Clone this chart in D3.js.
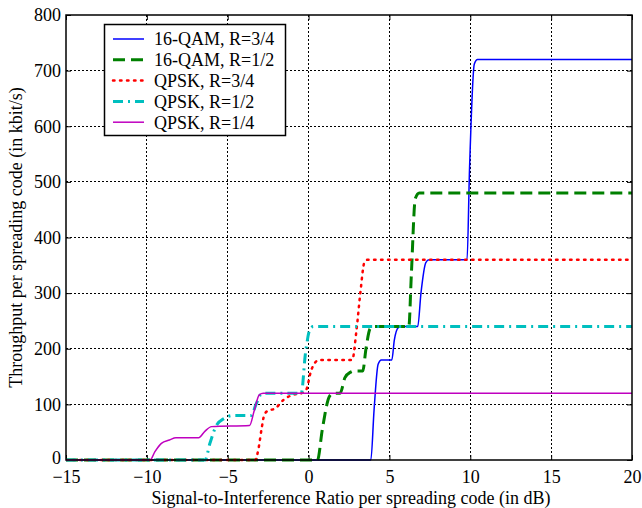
<!DOCTYPE html>
<html>
<head>
<meta charset="utf-8">
<script src="https://cdn.jsdelivr.net/npm/d3@7"></script>
<style>
  body { margin: 0; background: #fff; }
  svg { display: block; font-family: "Liberation Serif", "Times New Roman", serif; }
</style>
</head>
<body>
<svg id="chart" width="642" height="508"></svg>
<script>
// ---- Data ----
const xTicks = [-15, -10, -5, 0, 5, 10, 15, 20];
const yTicks = [0, 100, 200, 300, 400, 500, 600, 700, 800];

const seriesNames = ["16-QAM, R=3/4", "16-QAM, R=1/2", "QPSK, R=3/4", "QPSK, R=1/2", "QPSK, R=1/4"];

const qam16r34X = [-15, 3.85, 4.05, 4.3, 4.5, 5.15, 5.3, 5.55, 5.75, 6.75, 6.95, 7.25, 7.45, 9.8, 9.95, 10.25, 10.45, 20];
const qam16r34Y = [0, 0, 90, 172, 180, 180, 215, 238, 240, 240, 300, 355, 360, 360, 520, 712, 720, 720];

const qam16r12X = [-15, 0.55, 0.85, 1.3, 1.55, 1.95, 2.25, 2.6, 2.8, 3.35, 3.55, 3.8, 4.0, 6.2, 6.35, 6.6, 6.85, 20];
const qam16r12Y = [0, 0, 55, 115, 120, 120, 148, 158, 160, 160, 200, 236, 240, 240, 330, 470, 480, 480];

const qpskr34X = [-15, -3.3, -3.1, -2.9, -2.75, -2.5, -2.1, -1.55, -1.0, -0.45, -0.15, 0.15, 0.5, 0.7, 2.7, 2.95, 3.2, 3.45, 3.65, 20];
const qpskr34Y = [0, 0, 20, 57, 80, 89, 92, 108, 117, 120, 126, 160, 178, 180, 180, 230, 300, 355, 360, 360];

const qpskr12X = [-15, -6.4, -6.1, -5.7, -5.2, -4.7, -3.55, -3.25, -2.95, -2.75, -0.45, -0.2, 0.1, 0.3, 20];
const qpskr12Y = [0, 0, 30, 62, 75, 80, 80, 100, 118, 120, 120, 190, 236, 240, 240];

const qpskr14X = [-15, -9.8, -9.5, -9.1, -8.6, -8.2, -6.8, -6.4, -6.0, -3.65, -3.35, -3.05, -2.8, 20];
const qpskr14Y = [0, 0, 15, 30, 36, 40, 40, 52, 60, 62, 90, 117, 120, 120];

const seriesColors = ["#0000ff", "#008000", "#ff0000", "#00bfbf", "#bf00bf"];

// ---- Layout ----
const W = 642, H = 508;
const L = 66, R = 632, T = 15, B = 460;
const FS = 18;

const svg = d3.select("#chart");
const x = d3.scaleLinear().domain([-15, 20]).range([L, R]);
const y = d3.scaleLinear().domain([0, 800]).range([B, T]);

// grid
const grid = svg.append("g");
grid.selectAll(".gx").data(xTicks.slice(1, -1)).enter().append("line")
  .attr("x1", d => x(d)).attr("x2", d => x(d)).attr("y1", T).attr("y2", B)
  .attr("stroke", "#000").attr("stroke-width", 1).attr("stroke-dasharray", "2,2").attr("shape-rendering", "crispEdges");
grid.selectAll(".gy").data(yTicks.slice(1, -1)).enter().append("line")
  .attr("y1", d => y(d)).attr("y2", d => y(d)).attr("x1", L).attr("x2", R)
  .attr("stroke", "#000").attr("stroke-width", 1).attr("stroke-dasharray", "2,2").attr("shape-rendering", "crispEdges");

// axes (ticks inward)
const tickLen = 5;
const xAxisB = d3.axisBottom(x).tickValues(xTicks).tickSize(-tickLen).tickPadding(10).tickFormat(d3.format("d"));
const xAxisT = d3.axisTop(x).tickValues(xTicks).tickSize(-tickLen).tickFormat("");
const yAxisL = d3.axisLeft(y).tickValues(yTicks).tickSize(-tickLen).tickPadding(5).tickFormat(d3.format("d"));
const yAxisR = d3.axisRight(y).tickValues(yTicks).tickSize(-tickLen).tickFormat("");

function styleAxis(g) {
  g.select(".domain").remove();
  g.selectAll(".tick line").attr("stroke", "#000").attr("stroke-width", 1);
  g.selectAll("text").attr("font-family", "Liberation Serif, serif").attr("font-size", FS).attr("fill", "#000");
}
svg.append("g").attr("transform", `translate(0,${B})`).call(xAxisB).call(styleAxis)
  .selectAll("text").attr("dy", "0.71em");
svg.append("g").attr("transform", `translate(0,${T})`).call(xAxisT).call(styleAxis);
const yL = svg.append("g").attr("transform", `translate(${L},0)`).call(yAxisL).call(styleAxis);
yL.selectAll(".tick text").filter(d => d === 0).attr("dy", "0.2em");
svg.append("g").attr("transform", `translate(${R},0)`).call(yAxisR).call(styleAxis);

// series
const seriesX = [qam16r34X, qam16r12X, qpskr34X, qpskr12X, qpskr14X];
const seriesY = [qam16r34Y, qam16r12Y, qpskr34Y, qpskr12Y, qpskr14Y];
const dashes = [null, "12,6", "1.5,5.5", "10,5,2,5", null];
const widths = [1.5, 3, 2.5, 3, 1.5];
const caps = ["butt", "butt", "round", "butt", "butt"];

const line = d3.line().x(d => x(d[0])).y(d => y(d[1])).curve(d3.curveMonotoneX);

svg.append("clipPath").attr("id", "clip").append("rect")
  .attr("x", L).attr("y", T - 2).attr("width", R - L).attr("height", B - T + 4);

const lines = svg.append("g").attr("clip-path", "url(#clip)");
seriesNames.forEach((name, i) => {
  const pts = seriesX[i].map((v, k) => [v, seriesY[i][k]]);
  lines.append("path").datum(pts).attr("d", line)
    .attr("fill", "none").attr("stroke", seriesColors[i])
    .attr("stroke-width", widths[i])
    .attr("stroke-linecap", caps[i])
    .attr("stroke-dasharray", dashes[i]);
});

// frame
svg.append("rect").attr("x", L).attr("y", T).attr("width", R - L).attr("height", B - T)
  .attr("fill", "none").attr("stroke", "#000").attr("stroke-width", 1.5);

// legend
const lg = svg.append("g");
lg.append("rect").attr("x", 104.5).attr("y", 24.5).attr("width", 181).attr("height", 111)
  .attr("fill", "#fff").attr("stroke", "#000").attr("stroke-width", 1.5);
seriesNames.forEach((name, i) => {
  const yy = 39 + i * 20.8;
  lg.append("line").attr("x1", 113).attr("x2", 144).attr("y1", yy).attr("y2", yy)
    .attr("stroke", seriesColors[i]).attr("stroke-width", widths[i])
    .attr("stroke-linecap", caps[i]).attr("stroke-dasharray", dashes[i]);
  lg.append("text").attr("x", 154).attr("y", yy).attr("dy", "0.35em")
    .attr("font-size", FS).attr("fill", "#000").text(name);
});

// axis titles
svg.append("text").attr("x", (L + R) / 2 + 2).attr("y", 504).attr("text-anchor", "middle")
  .attr("font-size", FS).attr("fill", "#000")
  .text("Signal-to-Interference Ratio per spreading code (in dB)");
svg.append("text").attr("transform", `translate(22,${(T + B) / 2}) rotate(-90)`)
  .attr("text-anchor", "middle").attr("font-size", FS).attr("fill", "#000")
  .text("Throughput per spreading code (in kbit/s)");
</script>
</body>
</html>
